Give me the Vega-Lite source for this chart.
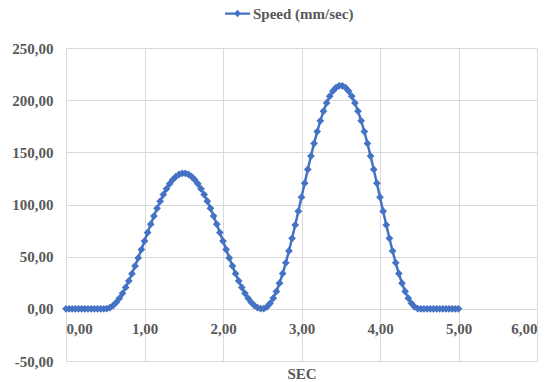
{
  "$schema": "https://vega.github.io/schema/vega-lite/v6.json",
  "width": 471,
  "height": 313,
  "autosize": "none",
  "padding": {"left": 66, "top": 48, "right": 14, "bottom": 21},
  "background": "white",
  "data": {"values": [
    {"t":0.00,"speed":0},{"t":0.04,"speed":0},{"t":0.08,"speed":0},{"t":0.12,"speed":0},{"t":0.16,"speed":0},{"t":0.20,"speed":0},{"t":0.24,"speed":0},{"t":0.28,"speed":0},{"t":0.32,"speed":0},{"t":0.36,"speed":0},{"t":0.40,"speed":0},{"t":0.44,"speed":0},{"t":0.48,"speed":0},
    {"t":0.52,"speed":0.13},{"t":0.56,"speed":1.15},{"t":0.60,"speed":3.18},{"t":0.64,"speed":6.19},{"t":0.68,"speed":10.12},{"t":0.72,"speed":14.92},{"t":0.76,"speed":20.50},{"t":0.80,"speed":26.79},{"t":0.84,"speed":33.69},{"t":0.88,"speed":41.07},{"t":0.92,"speed":48.84},{"t":0.96,"speed":56.85},{"t":1.00,"speed":65.00},{"t":1.04,"speed":73.15},{"t":1.08,"speed":81.17},{"t":1.12,"speed":88.93},{"t":1.16,"speed":96.31},{"t":1.20,"speed":103.21},{"t":1.24,"speed":109.50},{"t":1.28,"speed":115.08},{"t":1.32,"speed":119.88},{"t":1.36,"speed":123.81},{"t":1.40,"speed":126.82},{"t":1.44,"speed":128.85},{"t":1.48,"speed":129.87},
    {"t":1.52,"speed":129.87},{"t":1.56,"speed":128.85},{"t":1.60,"speed":126.82},{"t":1.64,"speed":123.81},{"t":1.68,"speed":119.88},{"t":1.72,"speed":115.08},{"t":1.76,"speed":109.50},{"t":1.80,"speed":103.21},{"t":1.84,"speed":96.31},{"t":1.88,"speed":88.93},{"t":1.92,"speed":81.17},{"t":1.96,"speed":73.15},{"t":2.00,"speed":65.00},{"t":2.04,"speed":56.85},{"t":2.08,"speed":48.84},{"t":2.12,"speed":41.07},{"t":2.16,"speed":33.69},{"t":2.20,"speed":26.79},{"t":2.24,"speed":20.50},{"t":2.28,"speed":14.92},{"t":2.32,"speed":10.12},{"t":2.36,"speed":6.19},{"t":2.40,"speed":3.18},{"t":2.44,"speed":1.15},{"t":2.48,"speed":0.13},
    {"t":2.52,"speed":0.21},{"t":2.56,"speed":1.90},{"t":2.60,"speed":5.24},{"t":2.64,"speed":10.18},{"t":2.68,"speed":16.66},{"t":2.72,"speed":24.56},{"t":2.76,"speed":33.75},{"t":2.80,"speed":44.11},{"t":2.84,"speed":55.45},{"t":2.88,"speed":67.61},{"t":2.92,"speed":80.39},{"t":2.96,"speed":93.59},{"t":3.00,"speed":107.00},{"t":3.04,"speed":120.41},{"t":3.08,"speed":133.61},{"t":3.12,"speed":146.39},{"t":3.16,"speed":158.55},{"t":3.20,"speed":169.89},{"t":3.24,"speed":180.25},{"t":3.28,"speed":189.45},{"t":3.32,"speed":197.34},{"t":3.36,"speed":203.82},{"t":3.40,"speed":208.76},{"t":3.44,"speed":212.11},{"t":3.48,"speed":213.79},
    {"t":3.52,"speed":213.79},{"t":3.56,"speed":212.11},{"t":3.60,"speed":208.76},{"t":3.64,"speed":203.82},{"t":3.68,"speed":197.34},{"t":3.72,"speed":189.45},{"t":3.76,"speed":180.25},{"t":3.80,"speed":169.89},{"t":3.84,"speed":158.55},{"t":3.88,"speed":146.39},{"t":3.92,"speed":133.61},{"t":3.96,"speed":120.41},{"t":4.00,"speed":107.00},{"t":4.04,"speed":93.59},{"t":4.08,"speed":80.39},{"t":4.12,"speed":67.61},{"t":4.16,"speed":55.45},{"t":4.20,"speed":44.11},{"t":4.24,"speed":33.75},{"t":4.28,"speed":24.56},{"t":4.32,"speed":16.66},{"t":4.36,"speed":10.18},{"t":4.40,"speed":5.24},{"t":4.44,"speed":1.90},{"t":4.48,"speed":0.21},
    {"t":4.52,"speed":0},{"t":4.56,"speed":0},{"t":4.60,"speed":0},{"t":4.64,"speed":0},{"t":4.68,"speed":0},{"t":4.72,"speed":0},{"t":4.76,"speed":0},{"t":4.80,"speed":0},{"t":4.84,"speed":0},{"t":4.88,"speed":0},{"t":4.92,"speed":0},{"t":4.96,"speed":0},{"t":5.00,"speed":0}
  ]},
  "mark": {
    "type": "line",
    "strokeWidth": 2.5,
    "clip": false,
    "point": {"shape": "diamond", "size": 60, "filled": true}
  },
  "encoding": {
    "x": {
      "field": "t", "type": "quantitative",
      "scale": {"domain": [0, 6], "nice": false, "zero": false},
      "axis": {
        "title": "SEC",
        "values": [0, 1, 2, 3, 4, 5, 6],
        "offset": -52,
        "ticks": false,
        "domain": false,
        "labelPadding": 12,
        "labelExpr": "replace(format(datum.value, '.2f'), '.', ',')",
        "titleY": 64,
        "titleBaseline": "middle"
      }
    },
    "y": {
      "field": "speed", "type": "quantitative",
      "scale": {"domain": [-50, 250], "nice": false},
      "axis": {
        "title": null,
        "values": [-50, 0, 50, 100, 150, 200, 250],
        "ticks": false,
        "domain": false,
        "labelPadding": 13,
        "labelExpr": "(datum.value < 0 ? '-' : '') + replace(format(abs(datum.value), '.2f'), '.', ',')"
      }
    },
    "color": {
      "datum": "Speed (mm/sec)",
      "type": "nominal",
      "scale": {"range": ["#4472C4"]},
      "legend": {
        "title": null,
        "orient": "none",
        "legendX": 159,
        "legendY": -47,
        "symbolType": "M-1,-0.09L1,-0.09L1,0.09L-1,0.09Z M0,-0.3L0.28,0L0,0.3L-0.28,0Z",
        "symbolSize": 625,
        "symbolStrokeWidth": 0,
        "symbolFillColor": "#4472C4",
        "labelOffset": 3,
        "labelFont": "Liberation Serif",
        "labelFontSize": 15,
        "labelFontWeight": "bold",
        "labelColor": "#595959",
        "encode": {"symbols": {"update": {"fill": {"value": "#4472C4"}, "stroke": {"value": "transparent"}, "opacity": {"value": 1}}}}
      }
    }
  },
  "config": {
    "view": {"stroke": null},
    "axis": {
      "grid": true,
      "gridColor": "#d9d9d9",
      "gridWidth": 1,
      "labelFont": "Liberation Serif",
      "labelFontSize": 15,
      "labelFontWeight": "bold",
      "labelColor": "#595959",
      "titleFont": "Liberation Serif",
      "titleFontSize": 15,
      "titleFontWeight": "bold",
      "titleColor": "#595959"
    }
  }
}
